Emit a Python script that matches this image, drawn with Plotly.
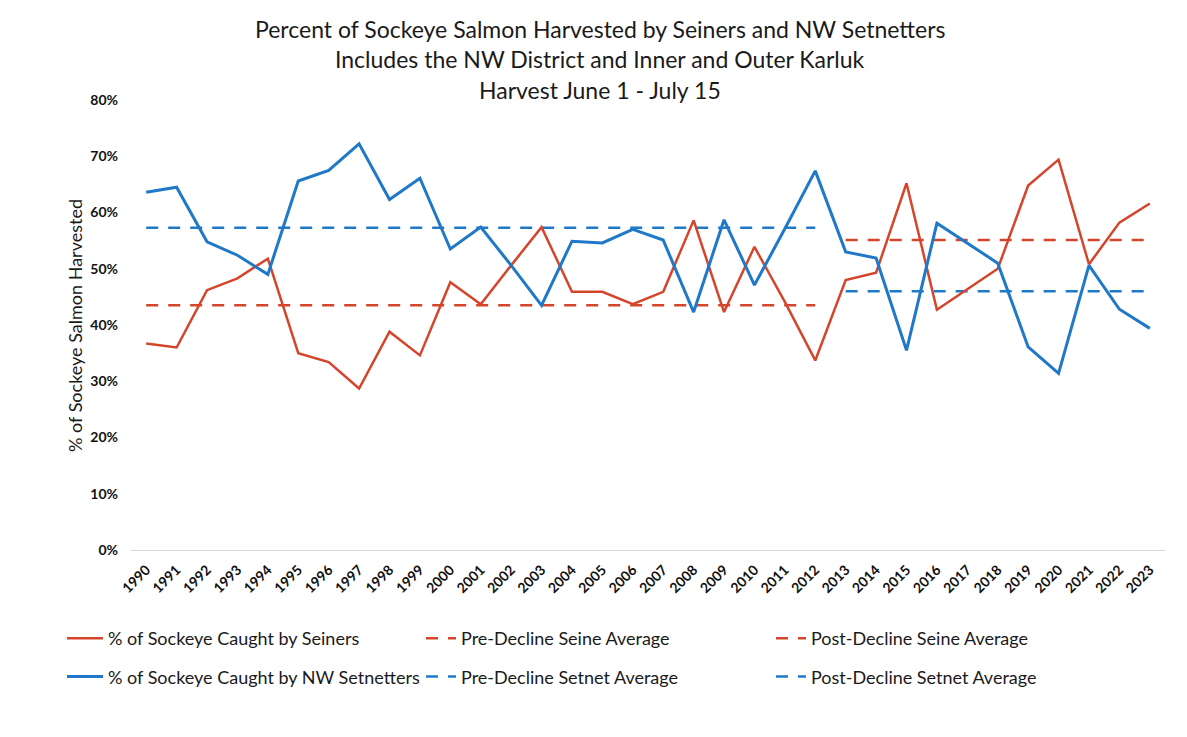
import plotly.graph_objects as go

years = list(range(1990, 2024))
seiners = [36.7, 36.0, 46.2, 48.3, 51.8, 35.0, 33.4, 28.7, 38.8, 34.6,
           47.6, 43.7, 50.6, 57.4, 45.9, 45.9, 43.7, 45.9, 58.6, 42.3,
           53.9, 44.1, 33.7, 48.0, 49.3, 65.2, 42.7, 46.4, 50.0, 64.8,
           69.4, 50.8, 58.2, 61.6]
setnetters = [63.6, 64.5, 54.8, 52.4, 49.0, 65.6, 67.5, 72.2, 62.3, 66.1,
              53.5, 57.4, 50.6, 43.5, 54.9, 54.6, 57.0, 55.1, 42.3, 58.7,
              47.1, 57.1, 67.4, 53.0, 51.9, 35.5, 58.1, 54.6, 51.0, 36.1,
              31.4, 50.6, 42.8, 39.4]
pre_years = list(range(1990, 2013))
post_years = list(range(2013, 2024))
pre_seine_avg = 43.5
pre_setnet_avg = 57.3
post_seine_avg = 55.1
post_setnet_avg = 46.0

title_lines = ["Percent of Sockeye Salmon Harvested by Seiners and NW Setnetters",
               "Includes the NW District and Inner and Outer Karluk",
               "Harvest June 1 - July 15"]
y_title = "% of Sockeye Salmon Harvested"

RED = "#D4452B"
BLUE = "#1F78C8"
FONT = "Lato"
DASH = "12px,10px"
OFF = 8  # page offset compensation (browser body margin)

fig = go.Figure()

def pct(v):
    return [x / 100 for x in v]

fig.add_trace(go.Scatter(x=pre_years, y=pct([pre_seine_avg] * len(pre_years)), mode="lines",
                         name="Pre-Decline Seine Average", line=dict(color=RED, width=2.5, dash=DASH),
                         legend="legend2", legendgroup="a"))
fig.add_trace(go.Scatter(x=pre_years, y=pct([pre_setnet_avg] * len(pre_years)), mode="lines",
                         name="Pre-Decline Setnet Average", line=dict(color=BLUE, width=2.5, dash=DASH),
                         legend="legend2", legendgroup="b"))
fig.add_trace(go.Scatter(x=post_years, y=pct([post_seine_avg] * len(post_years)), mode="lines",
                         name="Post-Decline Seine Average", line=dict(color=RED, width=2.5, dash=DASH),
                         legend="legend3", legendgroup="c"))
fig.add_trace(go.Scatter(x=post_years, y=pct([post_setnet_avg] * len(post_years)), mode="lines",
                         name="Post-Decline Setnet Average", line=dict(color=BLUE, width=2.5, dash=DASH),
                         legend="legend3", legendgroup="d"))
fig.add_trace(go.Scatter(x=years, y=pct(seiners), mode="lines",
                         name="% of Sockeye Caught by Seiners", line=dict(color=RED, width=2.5),
                         legend="legend", legendgroup="e"))
fig.add_trace(go.Scatter(x=years, y=pct(setnetters), mode="lines",
                         name="% of Sockeye Caught by NW Setnetters", line=dict(color=BLUE, width=3),
                         legend="legend", legendgroup="f"))

W, H = 1187, 737
PL, PR, PT, PB = 131 - OFF, 1165 - OFF, 100 - OFF, 550 - OFF
pw, ph = PR - PL, PB - PT

def px_x(x):
    return (x - OFF - PL) / pw

def px_y(y):
    return (PB - (y - OFF)) / ph

annotations = []
for txt, ypx in zip(title_lines, [29, 59, 90]):
    annotations.append(dict(text=txt, xref="paper", yref="paper",
                            x=px_x(600), y=px_y(ypx),
                            xanchor="center", yanchor="middle", showarrow=False,
                            font=dict(family=FONT, size=23, color="#1a1a1a")))
annotations.append(dict(text=y_title, xref="paper", yref="paper",
                        x=px_x(75), y=px_y(326), textangle=-90,
                        xanchor="center", yanchor="middle", showarrow=False,
                        font=dict(family=FONT, size=18, color="#1a1a1a")))

leg_common = dict(orientation="v", xref="container", yref="container",
                  xanchor="left", yanchor="top", bgcolor="rgba(0,0,0,0)",
                  font=dict(family=FONT, size=18, color="#1a1a1a"),
                  tracegroupgap=12, traceorder="grouped")
leg_top = 1 - (637 - OFF - 17) / H

fig.update_layout(
    width=W, height=H,
    margin=dict(l=PL, r=W - PR, t=PT, b=H - PB, autoexpand=False),
    paper_bgcolor="white", plot_bgcolor="white",
    showlegend=True,
    annotations=annotations,
    legend=dict(x=(62 - OFF) / W, y=leg_top, itemwidth=36, **leg_common),
    legend2=dict(x=(421 - OFF) / W, y=leg_top, itemwidth=30, **leg_common),
    legend3=dict(x=(771 - OFF) / W, y=leg_top, itemwidth=30, **leg_common),
    xaxis=dict(range=[1989.5, 2023.5], tickmode="array", tickvals=years,
               ticktext=[str(y) for y in years], tickangle=-45,
               showgrid=False, zeroline=False, showline=False, ticks="",
               automargin=False, ticklabelstandoff=8,
               tickfont=dict(family=FONT, size=14, color="#111", weight="bold")),
    yaxis=dict(range=[0, 0.8], dtick=0.1, tickformat=".0%",
               showgrid=False, zeroline=True, zerolinecolor="#d9d9d9", zerolinewidth=1,
               showline=False, ticks="", ticklabelstandoff=12, automargin=False,
               tickfont=dict(family=FONT, size=14, color="#111", weight="bold")),
)

fig.write_html("out.html")
